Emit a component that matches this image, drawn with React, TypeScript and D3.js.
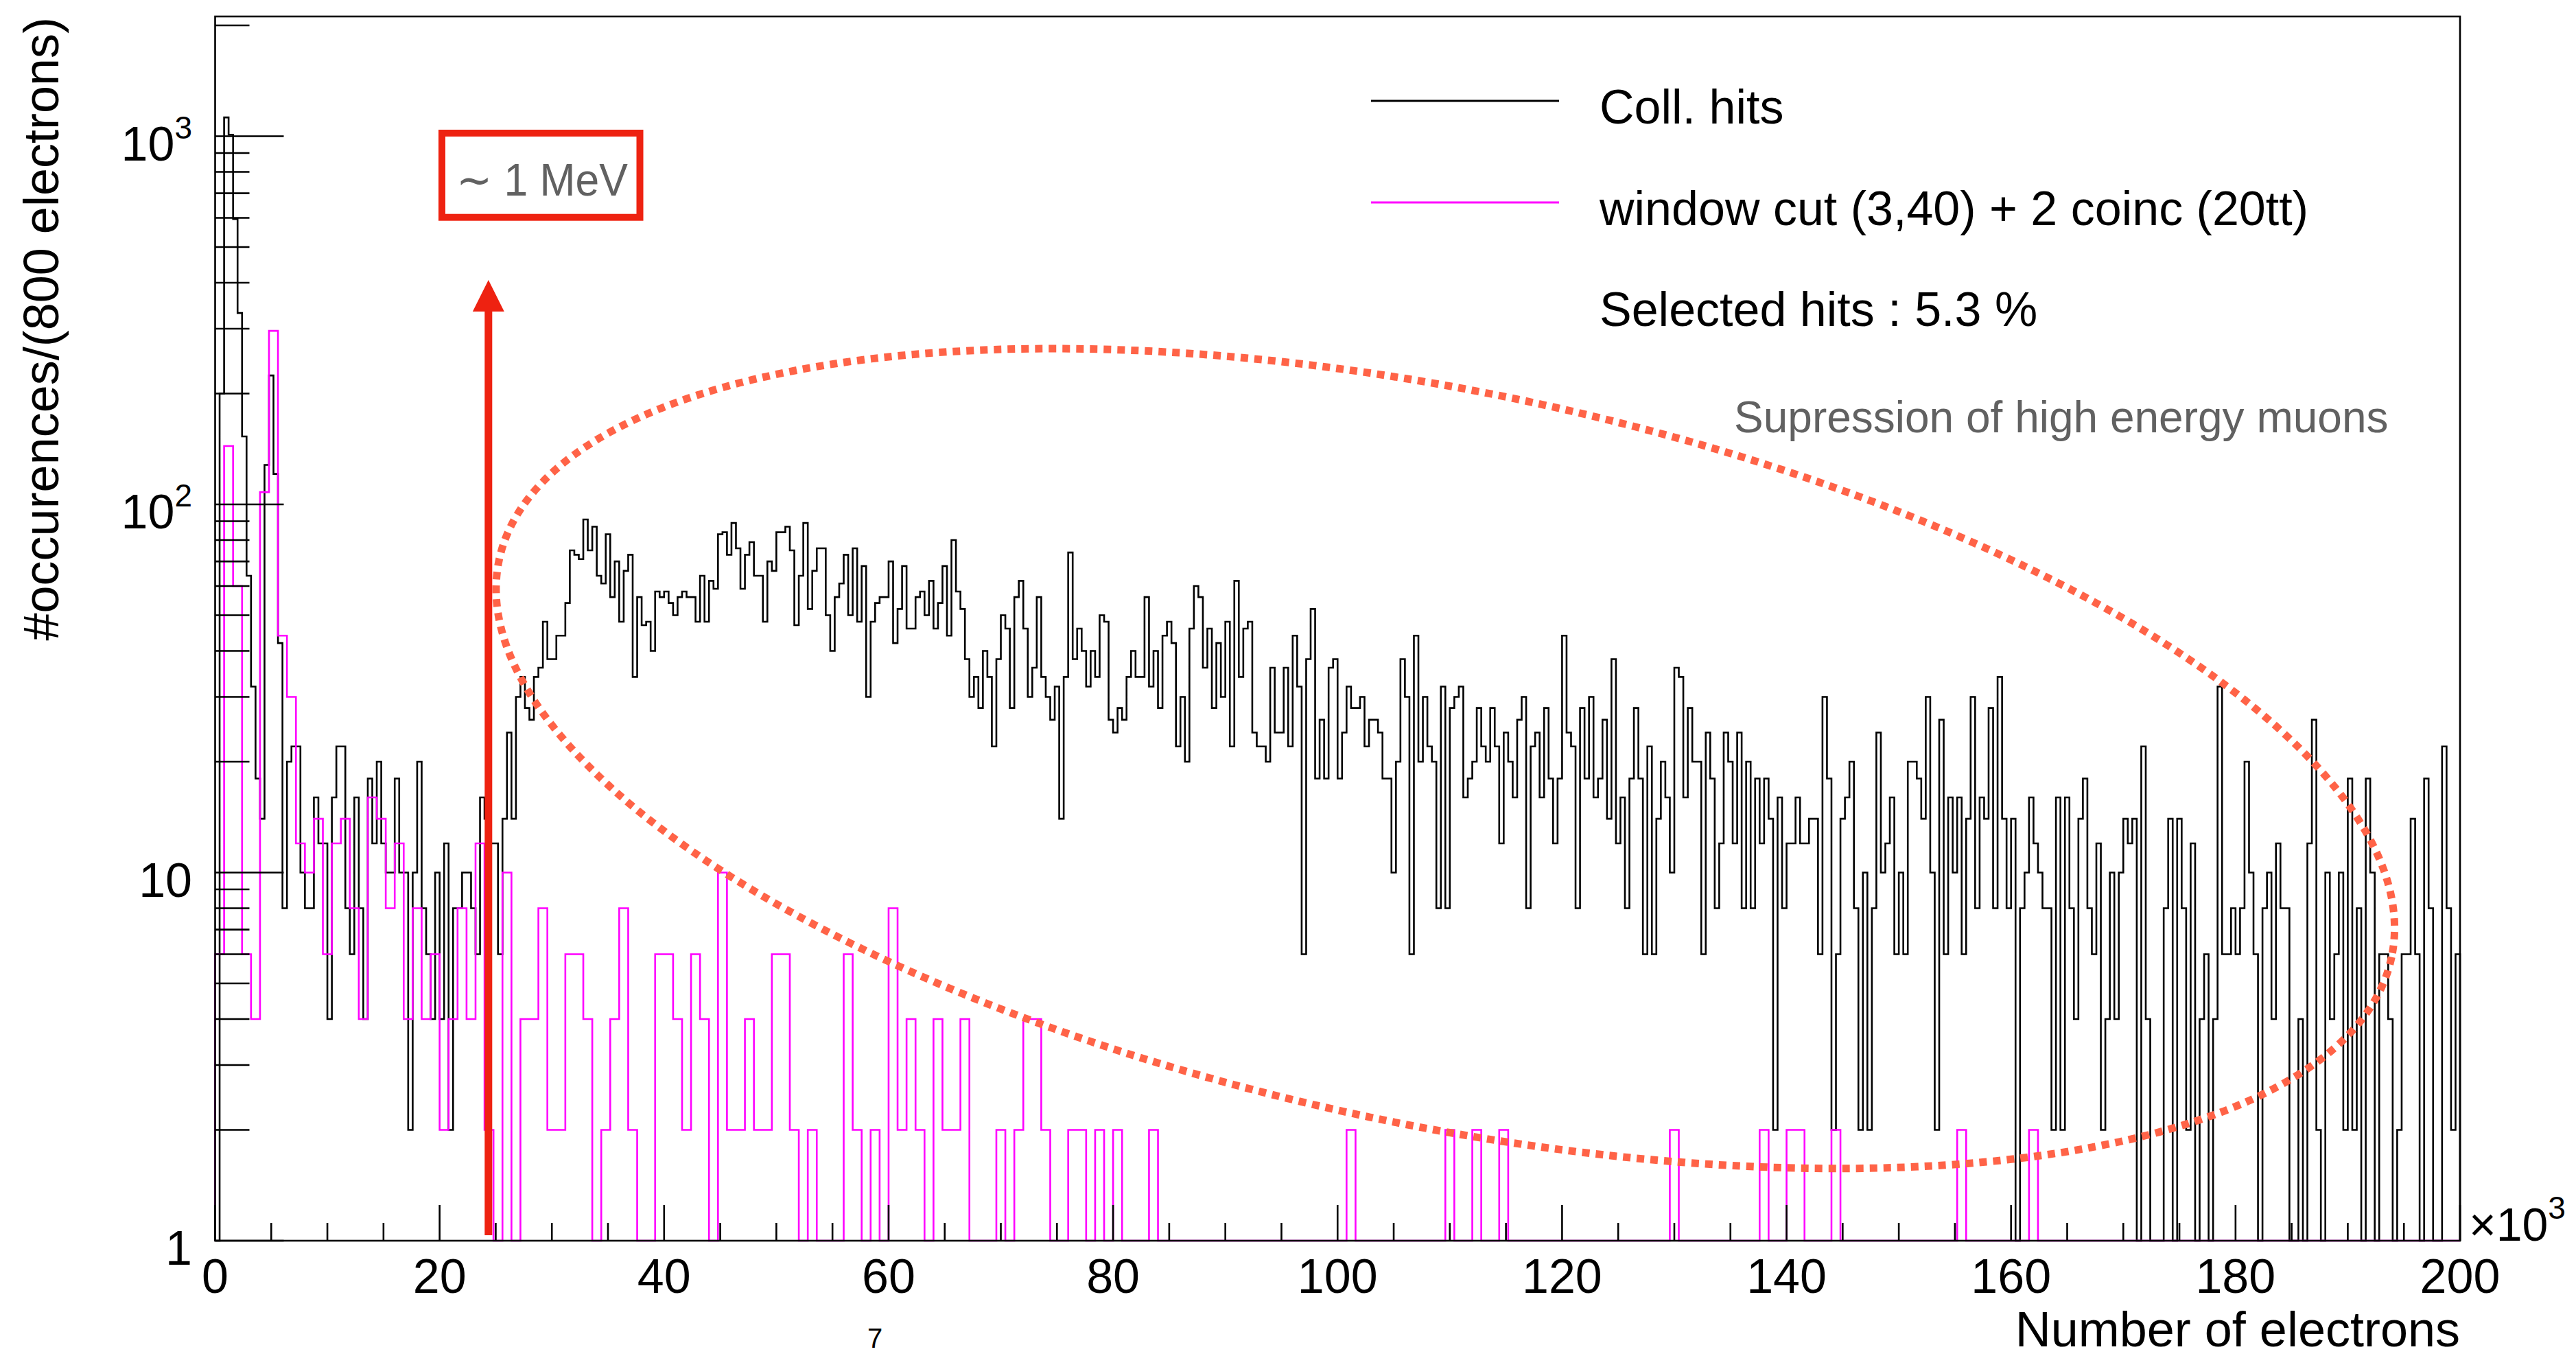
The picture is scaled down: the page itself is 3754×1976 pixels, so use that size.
import React from 'react';
import * as d3 from 'd3';

// ---------------- DATA ----------------
// bin widths in units of 10^3 electrons
const collHitsBinWidth = 0.4;
const selectedBinWidth = 0.8;

// "Coll. hits" (black) – 500 bins over 0..200 (x10^3)
const collHits = [
  0, 200, 1125, 1010, 596, 331, 153, 64, 32, 18, 14, 128, 224, 121, 42, 8, 20, 22, 22, 10,
  8, 8, 16, 12, 12, 4, 16, 22, 22, 8, 6, 16, 8, 4, 18, 12, 20, 12, 10, 10,
  18, 10, 10, 2, 10, 20, 8, 6, 4, 10, 4, 12, 2, 8, 8, 10, 10, 8, 6, 16,
  14, 12, 12, 6, 14, 24, 14, 30, 34, 28, 26, 34, 36, 48, 38, 38, 44, 44, 54, 75,
  73, 71, 91, 75, 87, 64, 61, 83, 56, 70, 48, 66, 73, 34, 56, 47, 48, 40, 58, 56,
  58, 54, 50, 56, 58, 56, 56, 48, 64, 48, 62, 59, 83, 84, 73, 89, 76, 59, 73, 79,
  64, 64, 48, 70, 66, 84, 84, 87, 75, 47, 64, 89, 52, 66, 76, 76, 50, 40, 56, 61,
  73, 50, 76, 48, 68, 30, 48, 54, 56, 56, 70, 42, 52, 68, 46, 46, 56, 58, 50, 62,
  46, 54, 68, 44, 80, 58, 52, 38, 30, 34, 28, 40, 34, 22, 38, 50, 46, 28, 56, 62,
  46, 30, 36, 56, 34, 30, 26, 32, 14, 34, 74, 38, 46, 40, 32, 40, 34, 50, 48, 26,
  24, 28, 26, 34, 40, 34, 34, 56, 32, 40, 28, 44, 48, 42, 22, 30, 20, 46, 60, 56,
  36, 46, 28, 42, 30, 48, 22, 62, 34, 46, 48, 24, 22, 22, 20, 36, 24, 24, 36, 22,
  44, 32, 6, 38, 52, 18, 26, 18, 36, 38, 18, 24, 32, 28, 28, 30, 22, 26, 26, 24,
  18, 18, 10, 20, 38, 30, 6, 44, 20, 30, 22, 20, 8, 32, 8, 28, 30, 32, 16, 18,
  20, 28, 22, 20, 28, 22, 12, 24, 20, 16, 26, 30, 8, 22, 24, 16, 28, 18, 12, 18,
  44, 24, 22, 8, 28, 18, 30, 16, 18, 26, 14, 38, 12, 16, 8, 18, 28, 18, 6, 22,
  6, 14, 20, 16, 10, 36, 34, 16, 28, 20, 20, 6, 24, 18, 8, 12, 24, 20, 12, 24,
  8, 20, 8, 18, 12, 18, 14, 2, 16, 8, 12, 12, 16, 12, 12, 14, 14, 6, 30, 18,
  2, 6, 14, 16, 20, 8, 2, 10, 2, 8, 24, 10, 12, 16, 6, 10, 6, 20, 20, 18,
  14, 30, 10, 2, 26, 6, 16, 10, 16, 6, 14, 30, 8, 16, 14, 28, 8, 34, 14, 8,
  14, 0, 8, 10, 16, 12, 10, 8, 8, 2, 16, 2, 16, 8, 4, 14, 18, 8, 6, 12,
  2, 4, 10, 4, 10, 14, 12, 14, 0, 22, 4, 0, 0, 0, 8, 14, 0, 14, 8, 2,
  12, 0, 4, 6, 0, 4, 32, 6, 6, 8, 6, 8, 20, 10, 6, 0, 8, 10, 4, 12,
  8, 8, 0, 0, 4, 0, 12, 26, 2, 0, 10, 4, 6, 10, 2, 18, 2, 8, 0, 18,
  10, 0, 6, 6, 4, 0, 2, 6, 6, 14, 6, 0, 18, 8, 0, 0, 22, 8, 2, 6,
];

// "window cut (3,40) + 2 coinc (20tt)" (magenta) – 250 bins over 0..200 (x10^3)
const selectedHits = [
  6, 144, 60, 6, 4, 108, 296, 44, 30, 12, 10, 14, 6, 12, 14, 8, 4, 16, 14, 8,
  12, 4, 8, 4, 6, 2, 4, 8, 4, 12, 2, 0, 10, 0, 4, 4, 8, 2, 2, 6,
  6, 4, 0, 2, 4, 8, 2, 0, 0, 6, 6, 4, 2, 6, 4, 0, 10, 2, 2, 4,
  2, 2, 6, 6, 2, 0, 2, 0, 0, 0, 6, 2, 0, 2, 0, 8, 2, 4, 2, 0,
  4, 2, 2, 4, 0, 0, 0, 2, 0, 2, 4, 4, 2, 0, 0, 2, 2, 0, 2, 0,
  2, 0, 0, 0, 2, 0, 0, 0, 0, 0, 0, 0, 0, 0, 0, 0, 0, 0, 0, 0,
  0, 0, 0, 0, 0, 0, 2, 0, 0, 0, 0, 0, 0, 0, 0, 0, 0, 2, 0, 0,
  2, 0, 0, 2, 0, 0, 0, 0, 0, 0, 0, 0, 0, 0, 0, 0, 0, 0, 0, 0,
  0, 0, 2, 0, 0, 0, 0, 0, 0, 0, 0, 0, 2, 0, 0, 2, 2, 0, 0, 0,
  2, 0, 0, 0, 0, 0, 0, 0, 0, 0, 0, 0, 0, 0, 2, 0, 0, 0, 0, 0,
  0, 0, 2, 0, 0, 0, 0, 0, 0, 0, 0, 0, 0, 0, 0, 0, 0, 0, 0, 0,
  0, 0, 0, 0, 0, 0, 0, 0, 0, 0, 0, 0, 0, 0, 0, 0, 0, 0, 0, 0,
  0, 0, 0, 0, 0, 0, 0, 0, 0, 0,
];

const xTickValues = [0, 20, 40, 60, 80, 100, 120, 140, 160, 180, 200];
const yTickValues = [1, 10, 100, 1000];
const yTickLabels = [
  { base: '1', exp: '' },
  { base: '10', exp: '' },
  { base: '10', exp: '2' },
  { base: '10', exp: '3' },
];
const legendLabels = ['Coll. hits', 'window cut (3,40) + 2 coinc (20tt)'];
const legendNote = 'Selected hits : 5.3 %';
const ellipseNote = 'Supression of high energy muons';
const boxNote = '\u223C 1 MeV';
const xTitle = 'Number of electrons';
const yTitle = '#occurences/(800 electrons)';

// ---------------- LAYOUT ----------------
const W = 3754;
const H = 1976;
const PL = 313.5, PR = 3585, PT = 24, PB = 1808;
const FONT = "'Liberation Sans', Arial, Helvetica, sans-serif";
const RED = '#EE2211';
const DOT = '#FF6347';
const GREY = '#616161';

export default function App() {
  const x = d3.scaleLinear().domain([0, 200]).range([PL, PR]);
  const y = d3.scaleLog().domain([1, 2115]).range([PB, PT]);

  const stepPoints = (vals: number[], bw: number): [number, number][] => {
    const pts: [number, number][] = [[x(0), PB]];
    vals.forEach((v, i) => {
      const yy = v > 0 ? y(v) : PB;
      pts.push([x(i * bw), yy]);
      pts.push([x((i + 1) * bw), yy]);
    });
    pts.push([x(vals.length * bw), PB]);
    return pts;
  };
  const line = d3.line();
  const blackPath = line(stepPoints(collHits, collHitsBinWidth)) || '';
  const magentaPath = line(stepPoints(selectedHits, selectedBinWidth)) || '';

  const xMinor = d3.range(0, 201, 5).filter((v) => v % 20 !== 0);
  const yMinor: number[] = [];
  [1, 10, 100, 1000].forEach((dec) => {
    for (let k = 2; k <= 9; k++) {
      const v = k * dec;
      if (v < 2115) yMinor.push(v);
    }
  });

  // annotation geometry
  const ellCx = x(109.6);
  const ellCy = y(20.4);
  const arrowX = x(24.35);

  return (
    <svg
      width={W}
      height={H}
      viewBox={`0 0 ${W} ${H}`}
      style={{ position: 'absolute', left: 0, top: 0, background: '#fff' }}
      fontFamily={FONT}
    >
      <rect x={0} y={0} width={W} height={H} fill="#fff" />

      {/* histograms */}
      <path d={blackPath} fill="none" stroke="#000" strokeWidth={2.6} />
      <path d={magentaPath} fill="none" stroke="#FF00FF" strokeWidth={2.6} />

      {/* frame */}
      <rect x={PL} y={PT} width={PR - PL} height={PB - PT} fill="none" stroke="#000" strokeWidth={2.6} />

      {/* x ticks */}
      {xTickValues.map((v) => (
        <line key={`xM${v}`} x1={x(v)} x2={x(v)} y1={PB} y2={PB - 52} stroke="#000" strokeWidth={2.6} />
      ))}
      {xMinor.map((v) => (
        <line key={`xm${v}`} x1={x(v)} x2={x(v)} y1={PB} y2={PB - 26} stroke="#000" strokeWidth={2.6} />
      ))}
      {xTickValues.map((v) => (
        <text key={`xl${v}`} x={x(v)} y={1884} fontSize={70} textAnchor="middle" fill="#000">
          {v}
        </text>
      ))}
      <text x={3598} y={1808} fontSize={68} fill="#000">
        ×10<tspan fontSize={46} dy={-32}>3</tspan>
      </text>
      <text x={PR} y={1962} fontSize={72} textAnchor="end" fill="#000">
        {xTitle}
      </text>

      {/* y ticks */}
      {yTickValues.map((v) => (
        <line key={`yM${v}`} x1={PL} x2={PL + 100} y1={y(v)} y2={y(v)} stroke="#000" strokeWidth={2.6} />
      ))}
      {yMinor.map((v) => (
        <line key={`ym${v}`} x1={PL} x2={PL + 50} y1={y(v)} y2={y(v)} stroke="#000" strokeWidth={2.6} />
      ))}
      {yTickValues.map((v, i) => (
        <text key={`yl${v}`} x={280} y={y(v) + 35} fontSize={70} textAnchor="end" fill="#000">
          {yTickLabels[i].base}
          {yTickLabels[i].exp ? (
            <tspan fontSize={46} dy={-32}>
              {yTickLabels[i].exp}
            </tspan>
          ) : null}
        </text>
      ))}
      <text transform={`translate(85,25) rotate(-90)`} fontSize={72} textAnchor="end" fill="#000">
        {yTitle}
      </text>

      {/* legend */}
      <line x1={1998} x2={2272} y1={147} y2={147} stroke="#000" strokeWidth={3} />
      <line x1={1998} x2={2272} y1={295} y2={295} stroke="#FF00FF" strokeWidth={3} />
      <text x={2331} y={180} fontSize={70} fill="#000">{legendLabels[0]}</text>
      <text x={2331} y={328} fontSize={70} fill="#000">{legendLabels[1]}</text>
      <text x={2331} y={475} fontSize={70} fill="#000">{legendNote}</text>

      {/* dotted ellipse annotation */}
      <ellipse
        cx={ellCx}
        cy={ellCy}
        rx={1409}
        ry={534}
        transform={`rotate(11.85 ${ellCx} ${ellCy})`}
        fill="none"
        stroke={DOT}
        strokeWidth={11}
        strokeDasharray="11 9"
      />
      <text x={2527} y={630} fontSize={64} fill={GREY}>{ellipseNote}</text>

      {/* 1 MeV arrow + box */}
      <rect x={644} y={194} width={288.5} height={122.7} fill="#fff" stroke={RED} strokeWidth={10} />
      <text x={665} y={285} fontSize={66} fill={GREY} textLength={250} lengthAdjust="spacingAndGlyphs">
        {boxNote}
      </text>
      <rect x={arrowX - 5.5} y={450} width={11} height={1350} fill={RED} />
      <path d={`M${arrowX},408 L${arrowX - 23},454 L${arrowX + 23},454 Z`} fill={RED} />

      {/* page number */}
      <text x={1275} y={1964} fontSize={40} textAnchor="middle" fill="#000">7</text>
    </svg>
  );
}
